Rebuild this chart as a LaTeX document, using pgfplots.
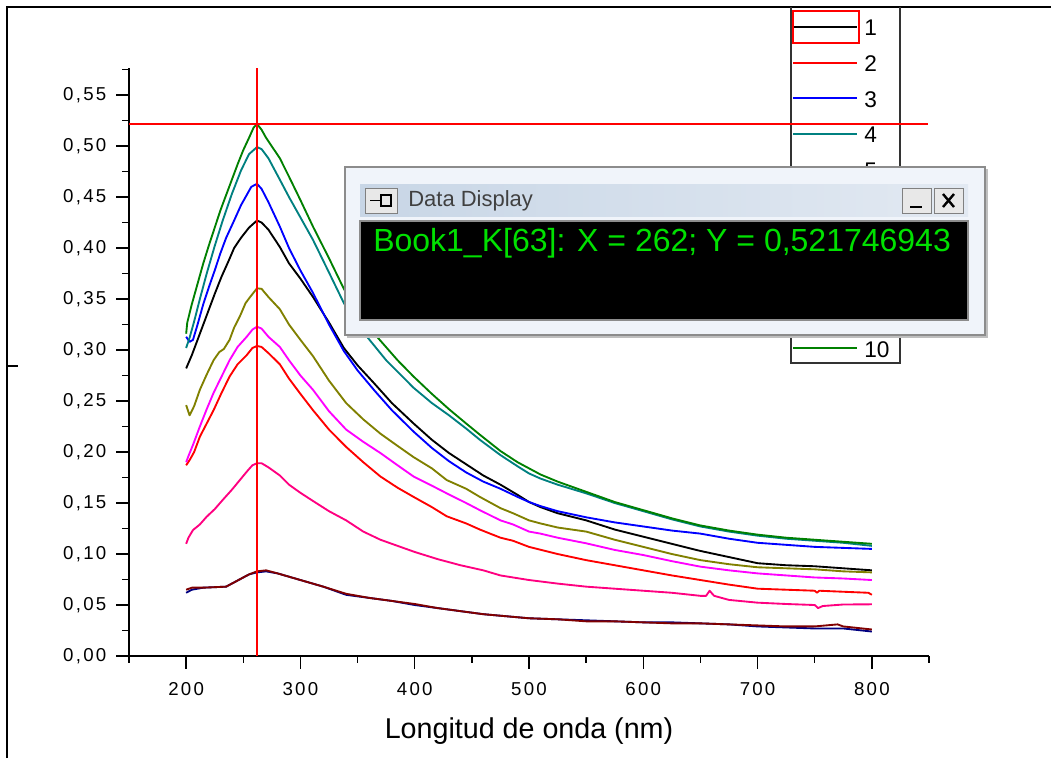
\documentclass[border=0pt]{standalone}
\usepackage{pgfplots}
\pgfplotsset{compat=1.18}
\usepackage{fontspec}
\setmainfont{Liberation Sans}
\newfontfamily\tickfont[LetterSpace=12]{Liberation Sans}
\definecolor{cteal}{RGB}{0,128,128}
\definecolor{colive}{RGB}{128,128,0}
\definecolor{cmag}{RGB}{255,0,255}
\definecolor{cpink}{RGB}{255,0,128}
\definecolor{cnavy}{RGB}{0,0,128}
\definecolor{cwine}{RGB}{128,0,0}
\definecolor{cgreen}{RGB}{0,128,0}
\definecolor{winbg}{RGB}{240,244,250}
\definecolor{winborder}{RGB}{140,140,140}
\definecolor{titleL}{RGB}{200,214,230}
\definecolor{titleR}{RGB}{226,233,242}
\definecolor{btn}{RGB}{232,232,232}
\definecolor{dgreen}{RGB}{0,225,0}
\begin{document}
\begin{tikzpicture}[x=0.75pt,y=-0.75pt]
\useasboundingbox (0,0) rectangle (1051,758);
% page frame
\draw[line width=1.6pt] (7,758) -- (7,7) -- (1051,7);
\draw[line width=1.2pt] (7,366) -- (18,366);
\coordinate (AO) at (129,656);
\begin{axis}[
  at={(AO)}, anchor=south west,
  width=600pt, height=441pt, scale only axis,
  xmin=150, xmax=850, ymin=0, ymax=0.5765,
  axis lines=left, axis line style={-, line width=1.3pt},
  tick align=outside, major tick length=9.5pt, minor tick length=5pt,
  every tick/.style={black, line width=1.1pt},
  xtick={200,300,400,500,600,700,800},
  xticklabels={200,300,400,500,600,700,800},
  minor xtick={150,250,350,450,550,650,750,850},
  ytick={0,0.05,0.1,0.15,0.2,0.25,0.3,0.35,0.4,0.45,0.5,0.55},
  yticklabels={{0,00},{0,05},{0,10},{0,15},{0,20},{0,25},{0,30},{0,35},{0,40},{0,45},{0,50},{0,55}},
  minor ytick={0.025,0.075,0.125,0.175,0.225,0.275,0.325,0.375,0.425,0.475,0.525,0.575},
  ticklabel style={font=\tickfont\fontsize{14}{16}\selectfont},
  yticklabel style={xshift=-4pt},
  xticklabel style={yshift=-6.5pt},
  xlabel={Longitud de onda (nm)},
  xlabel style={font=\fontsize{21.5}{24}\selectfont, at={(axis description cs:0.5,-0.1276)}, anchor=center},
  every axis plot/.append style={line width=1.4pt, line join=round, mark=none},
]
% 1 black
\addplot[black] coordinates {(200,0.282)(205,0.295)(210,0.310)(215,0.325)(220,0.340)(225,0.355)(231,0.372)(237,0.387)(242,0.400)(248,0.410)(255,0.420)(262,0.427)(266,0.425)(272,0.418)(282,0.401)(290,0.385)(300,0.370)(311,0.352)(325,0.327)(338,0.302)(350,0.285)(364,0.268)(380,0.248)(399,0.228)(415,0.212)(430,0.199)(445,0.188)(460,0.177)(475,0.168)(490,0.158)(500,0.151)(510,0.146)(525,0.140)(550,0.133)(575,0.124)(600,0.117)(625,0.110)(650,0.103)(675,0.097)(700,0.091)(725,0.089)(750,0.088)(775,0.086)(800,0.084)};
% 2 red
\addplot[red] coordinates {(200,0.187)(203,0.192)(207,0.200)(212,0.215)(218,0.228)(224,0.241)(231,0.258)(238,0.274)(245,0.286)(253,0.295)(258,0.302)(262,0.304)(266,0.303)(272,0.297)(282,0.286)(290,0.272)(300,0.257)(311,0.241)(325,0.222)(340,0.205)(355,0.190)(370,0.176)(385,0.165)(399,0.156)(415,0.146)(428,0.137)(445,0.130)(457,0.124)(475,0.116)(486,0.113)(500,0.107)(525,0.100)(550,0.094)(575,0.089)(600,0.084)(625,0.079)(650,0.0745)(675,0.070)(700,0.066)(725,0.065)(750,0.064)(752,0.062)(754,0.064)(775,0.063)(797,0.062)(800,0.060)};
% 3 blue
\addplot[blue] coordinates {(200,0.313)(203,0.308)(206,0.310)(210,0.325)(215,0.345)(220,0.362)(225,0.378)(230,0.395)(235,0.410)(242,0.427)(248,0.442)(253,0.452)(257,0.460)(262,0.463)(266,0.458)(272,0.445)(282,0.421)(290,0.400)(300,0.378)(311,0.356)(325,0.325)(338,0.299)(350,0.280)(365,0.260)(380,0.241)(399,0.220)(415,0.204)(430,0.191)(445,0.180)(460,0.171)(475,0.164)(490,0.156)(500,0.151)(510,0.147)(525,0.142)(550,0.136)(575,0.131)(600,0.127)(625,0.123)(650,0.120)(675,0.115)(700,0.111)(725,0.109)(750,0.107)(775,0.106)(800,0.105)};
% 4 teal
\addplot[cteal] coordinates {(200,0.302)(203,0.312)(207,0.328)(212,0.350)(218,0.375)(225,0.402)(232,0.427)(240,0.453)(248,0.476)(255,0.492)(262,0.499)(266,0.497)(272,0.488)(282,0.467)(290,0.450)(300,0.430)(311,0.408)(325,0.376)(338,0.346)(350,0.326)(359,0.312)(375,0.290)(399,0.263)(415,0.248)(430,0.236)(445,0.223)(457,0.212)(475,0.197)(490,0.186)(500,0.179)(510,0.174)(525,0.168)(550,0.1595)(575,0.150)(600,0.142)(625,0.134)(650,0.127)(675,0.122)(700,0.118)(725,0.115)(750,0.113)(775,0.111)(800,0.108)};
% 5 olive
\addplot[colive] coordinates {(200,0.246)(203,0.236)(207,0.245)(212,0.261)(218,0.276)(224,0.290)(229,0.298)(233,0.301)(238,0.310)(242,0.322)(247,0.333)(252,0.346)(256,0.352)(262,0.3605)(266,0.360)(272,0.352)(282,0.340)(290,0.325)(300,0.310)(311,0.294)(325,0.270)(340,0.248)(355,0.232)(370,0.218)(385,0.206)(399,0.195)(415,0.184)(428,0.1725)(445,0.164)(457,0.156)(475,0.145)(486,0.140)(500,0.133)(510,0.130)(525,0.126)(550,0.122)(575,0.114)(600,0.107)(625,0.100)(650,0.094)(675,0.090)(700,0.087)(725,0.086)(750,0.085)(775,0.083)(800,0.082)};
% 6 magenta
\addplot[cmag] coordinates {(200,0.190)(202,0.196)(206,0.207)(212,0.225)(218,0.242)(224,0.258)(231,0.274)(238,0.290)(245,0.303)(253,0.313)(258,0.320)(262,0.3229)(266,0.321)(272,0.313)(282,0.303)(290,0.290)(300,0.275)(311,0.261)(325,0.240)(340,0.222)(355,0.210)(370,0.199)(385,0.187)(399,0.176)(415,0.167)(428,0.1595)(445,0.150)(457,0.143)(475,0.133)(486,0.129)(500,0.122)(510,0.120)(525,0.116)(550,0.1105)(575,0.104)(600,0.099)(625,0.093)(650,0.0876)(675,0.084)(700,0.081)(725,0.079)(750,0.077)(775,0.076)(800,0.0745)};
% 7 pink
\addplot[cpink] coordinates {(200,0.110)(202,0.116)(206,0.1235)(212,0.129)(218,0.1366)(225,0.144)(232,0.153)(240,0.163)(247,0.1725)(254,0.182)(258,0.187)(262,0.189)(266,0.189)(272,0.185)(282,0.177)(290,0.168)(300,0.160)(311,0.152)(325,0.142)(340,0.133)(355,0.122)(370,0.114)(385,0.108)(400,0.102)(420,0.095)(440,0.089)(460,0.084)(475,0.079)(500,0.0745)(525,0.071)(550,0.068)(575,0.066)(600,0.064)(625,0.062)(650,0.059)(655,0.059)(658,0.064)(662,0.059)(675,0.055)(700,0.0523)(725,0.051)(750,0.050)(753,0.047)(757,0.049)(775,0.0505)(800,0.0507)};
% 8 navy
\addplot[cnavy] coordinates {(200,0.062)(205,0.065)(215,0.067)(235,0.068)(245,0.074)(255,0.080)(262,0.082)(270,0.083)(280,0.081)(300,0.0745)(320,0.068)(340,0.060)(360,0.057)(380,0.054)(400,0.050)(420,0.047)(440,0.044)(460,0.041)(480,0.039)(500,0.037)(525,0.036)(550,0.035)(575,0.034)(600,0.033)(625,0.033)(650,0.032)(675,0.031)(700,0.029)(725,0.028)(750,0.027)(775,0.027)(800,0.024)};
% 9 wine
\addplot[cwine] coordinates {(200,0.065)(205,0.067)(215,0.067)(235,0.068)(245,0.074)(255,0.080)(262,0.083)(270,0.084)(280,0.081)(300,0.0745)(320,0.068)(340,0.061)(360,0.057)(380,0.054)(400,0.051)(420,0.047)(440,0.044)(460,0.041)(480,0.039)(500,0.037)(525,0.036)(550,0.034)(575,0.034)(600,0.033)(625,0.032)(650,0.032)(675,0.031)(700,0.030)(725,0.029)(750,0.029)(770,0.031)(775,0.029)(800,0.026)};
% 10 green
\addplot[cgreen] coordinates {(200,0.316)(201,0.327)(205,0.345)(210,0.365)(215,0.385)(220,0.403)(225,0.420)(230,0.437)(235,0.452)(240,0.467)(245,0.482)(250,0.496)(255,0.508)(259,0.518)(262,0.5217)(266,0.516)(270,0.508)(276,0.498)(282,0.488)(290,0.470)(300,0.447)(311,0.421)(325,0.390)(338,0.360)(355,0.330)(367,0.313)(385,0.290)(399,0.274)(415,0.257)(430,0.242)(445,0.228)(457,0.217)(475,0.201)(490,0.190)(500,0.184)(510,0.178)(525,0.171)(550,0.161)(575,0.151)(600,0.143)(625,0.135)(650,0.128)(675,0.123)(700,0.119)(725,0.116)(750,0.114)(775,0.112)(800,0.110)};
% crosshair
\draw[red, line width=1.3pt] (axis cs:262,0) -- (axis cs:262,0.5765);
\end{axis}
% legend box
\draw[line width=1.4pt, black!80] (791,7) -- (791,363) -- (900,363) -- (900,7);
\foreach \c/\k in {black/1,red/2,blue/3,cteal/4,colive/5,cmag/6,cpink/7,cnavy/8,cwine/9,cgreen/10}{
  \pgfmathsetmacro{\yy}{27+(\k-1)*35.7}
  \draw[\c, line width=1.4pt] (793,\yy) -- (857,\yy);
  \node[anchor=west, inner sep=0pt, font=\fontsize{17}{18}\selectfont] at (864,\yy+1) {\k};
}
\draw[red, line width=1.3pt] (793,11) rectangle (859,43);
% horizontal crosshair
\draw[red, line width=1.3pt] (129,124) -- (928,124);
% Data Display window
\fill[black!25] (347,169) rectangle (988,338);
\filldraw[fill=winbg, draw=winborder, line width=1.2pt] (345,167) rectangle (985,335);
\shade[left color=titleL, right color=titleR] (360,184) rectangle (968,216);
\fill[black] (360,221) rectangle (968,320);
\draw[black!45, line width=0.8pt] (360,221) rectangle (968,320);
% buttons
\filldraw[fill=btn, draw=black!50, line width=0.6pt] (365,188) rectangle (397,213);
\draw[black, line width=1pt] (370,200.5) -- (380,200.5);
\draw[black, line width=1pt] (381,194) -- (381,207) (381,195) rectangle (391,206);
\filldraw[fill=btn, draw=black!50, line width=0.6pt] (902,188) rectangle (931,213);
\draw[black, line width=2pt] (910,207) -- (922,207);
\filldraw[fill=btn, draw=black!50, line width=0.6pt] (934,188) rectangle (963,213);
\draw[black, line width=1.8pt] (943,194) -- (954,207) (943,207) -- (954,194);
\node[anchor=west, inner sep=0pt, text=black!75, font=\fontsize{16.5}{18}\selectfont] at (408,201) {Data Display};
\node[anchor=west, inner sep=0pt, text=dgreen, font=\fontsize{24}{28}\selectfont] at (373,243) {Book1\_K[63]: X = 262; Y = 0,521746943};
\end{tikzpicture}
\end{document}
